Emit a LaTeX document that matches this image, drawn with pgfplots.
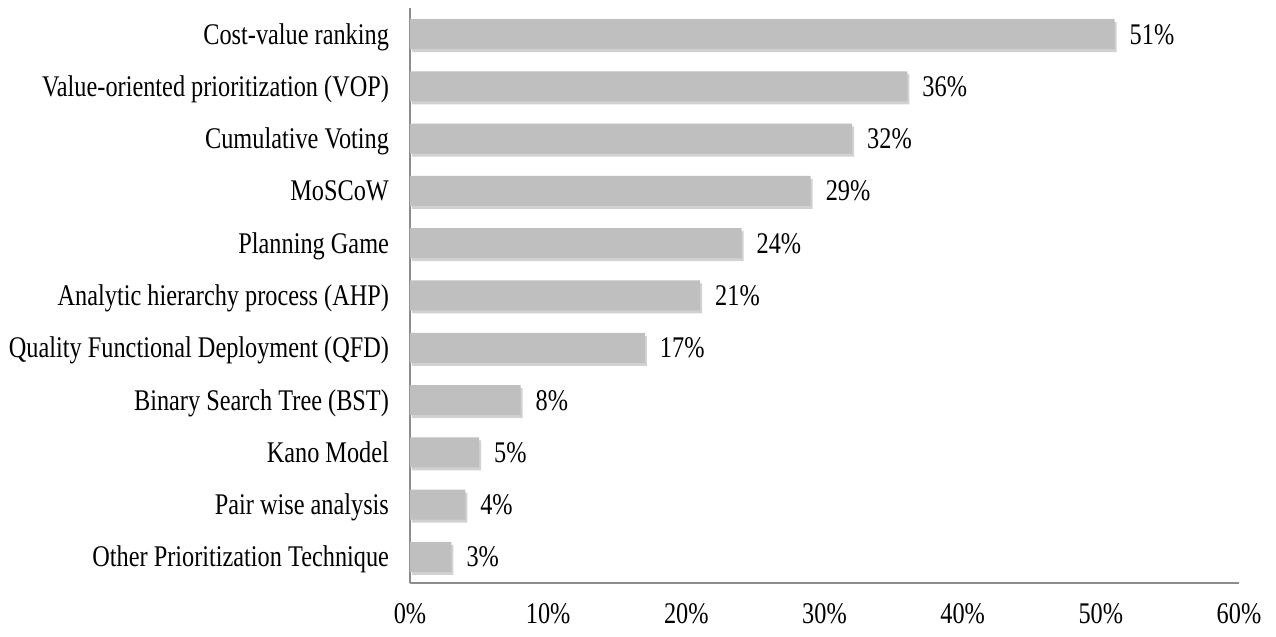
\documentclass[border=0pt]{standalone}
\usepackage{fontspec}
\setmainfont[FakeStretch=0.81]{Liberation Serif}
\usepackage{pgfplots}
\pgfplotsset{compat=1.18}
\usetikzlibrary{shadows}
\begin{document}
\begin{tikzpicture}
\begin{axis}[name=ax, scale only axis, width=414.5pt, height=287.5pt,
 xbar, bar width=15pt,
 xmin=0, xmax=60, ymin=-0.5, ymax=10.5,
 xtick={0,10,...,60}, xticklabel={\pgfmathprintnumber{\tick}\%},
 ytick={0,...,10},
 yticklabels={Other Prioritization Technique, Pair wise analysis, Kano Model, Binary Search Tree (BST), Quality Functional Deployment (QFD), Analytic hierarchy process (AHP), Planning Game, MoSCoW, Cumulative Voting, Value-oriented prioritization (VOP), Cost-value ranking},
 axis x line*=bottom, axis y line*=left,
 axis line style={black!45, line width=1pt},
 major tick length=0pt, tick style={draw=none},
 font=\fontsize{15}{18}\selectfont,
 /pgf/number format/assume math mode=true,
 yticklabel style={anchor=base east, xshift=-7pt, yshift=-5pt},
 xticklabel style={yshift=-6.5pt},
 nodes near coords={\pgfmathprintnumber{\pgfplotspointmeta}\%},
 nodes near coords style={anchor=base west, xshift=4pt, yshift=-5pt, text=black},
]
\addplot[fill=black!25, draw=none, drop shadow={shadow xshift=1pt, shadow yshift=-1.5pt, fill=black!45, opacity=0.4}] coordinates {
(3,0) (4,1) (5,2) (8,3) (17,4) (21,5) (24,6) (29,7) (32,8) (36,9) (51,10)};
\end{axis}
\pgfresetboundingbox
\path[use as bounding box] ([xshift=-205pt,yshift=-26.5pt]ax.south west) rectangle ([xshift=18.5pt,yshift=4pt]ax.north east);
\end{tikzpicture}
\end{document}
